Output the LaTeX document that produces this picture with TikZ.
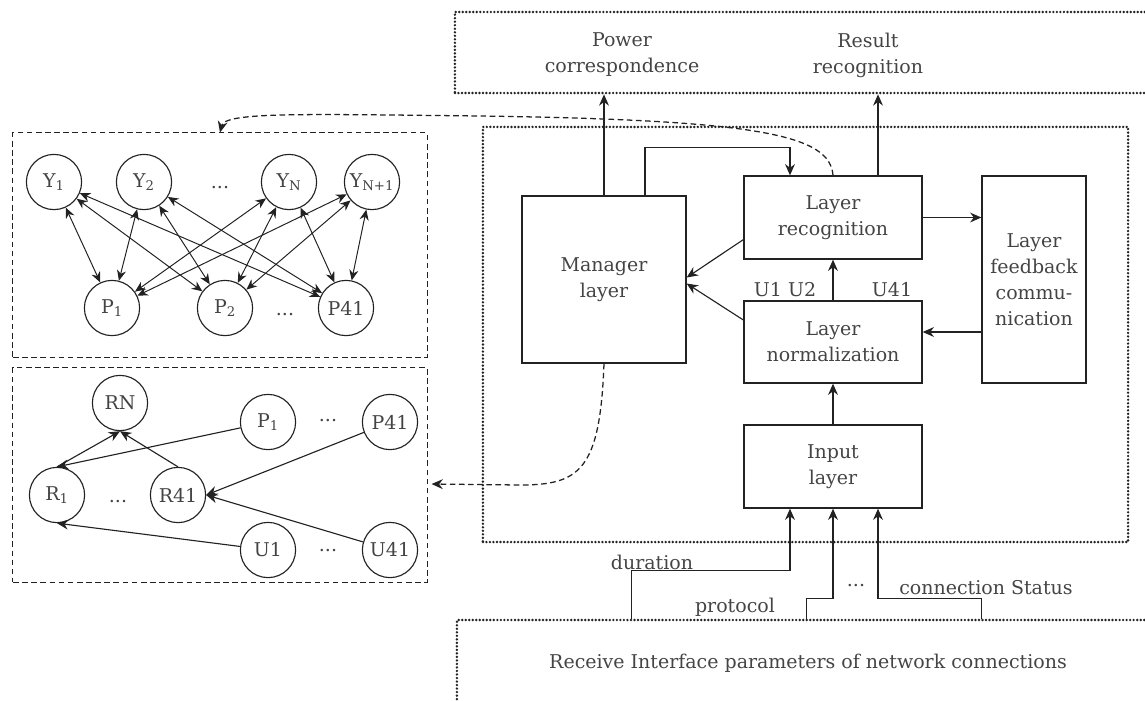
\documentclass[tikz,border=0pt]{standalone}
\usepackage{fontspec}
\setmainfont{DejaVu Serif}
\usetikzlibrary{arrows.meta}
\definecolor{ink}{HTML}{222222}
\definecolor{txt}{HTML}{444444}
\begin{document}
\begin{tikzpicture}[x=0.025cm,y=-0.025cm,
    font=\fontsize{13.5}{18.5}\selectfont,
    box/.style={rectangle,draw=ink,line width=0.9pt,align=center,text=txt,inner sep=2pt},
    neuron/.style={circle,draw=ink,line width=0.8pt,minimum size=1.38cm,inner sep=0pt,text=txt},
    link/.style={draw=ink,line width=0.8pt,-{Stealth[length=8pt,width=7pt]}},
    twoway/.style={draw=ink,line width=0.7pt,{Stealth[length=7.5pt,width=6.5pt]}-{Stealth[length=7.5pt,width=6.5pt]}},
    dotframe/.style={rectangle,draw=ink,line width=1.9pt,line cap=round,dash pattern=on 0pt off 2.5pt,inner sep=0pt},
    dashframe/.style={rectangle,draw=ink,line width=0.7pt,dash pattern=on 4pt off 2.5pt,inner sep=0pt},
    back/.style={draw=ink,line width=0.9pt,dash pattern=on 4pt off 2.5pt,-{Stealth[length=8pt,width=7pt]}},
    label/.style={text=txt,align=center}]
  \useasboundingbox (0,0) rectangle (1145,700);
  \clip (0,0) rectangle (1145,700);

  % frames
  \node[dotframe,minimum width=17.625cm,minimum height=2.025cm] (outputs) at (807.5,52.5) {};
  \node[dotframe,minimum width=16.125cm,minimum height=10.375cm] (system) at (805.5,334.5) {};
  \node[dotframe,minimum width=17.575cm,minimum height=2.5cm] (params) at (808.5,670) {};
  \node[dashframe,minimum width=10.35cm,minimum height=5.6cm] (topnet) at (220,245) {};
  \node[dashframe,minimum width=10.35cm,minimum height=5.35cm] (botnet) at (220,475) {};

  \node[label] (power) at (622,55) {Power\\correspondence};
  \node[label] (result) at (868,55) {Result\\recognition};
  \node[label] (receive) at (808,663) {Receive Interface parameters of network connections};

  % layers
  \node[box,minimum width=4.1cm,minimum height=4.175cm] (manager) at (604,279.5) {Manager\\layer};
  \node[box,minimum width=4.45cm,minimum height=2.075cm] (recog) at (833,217.5) {Layer\\recognition};
  \node[box,minimum width=4.45cm,minimum height=2.05cm] (norm) at (833,342) {Layer\\normalization};
  \node[box,minimum width=4.45cm,minimum height=2.075cm] (input) at (833,466.5) {Input\\layer};
  \node[box,minimum width=2.6cm,minimum height=5.175cm] (feedback) at (1034,279.5) {Layer\\feedback\\commu-\\nication};

  \node[label] (u12) at (785,290) {U1 U2};
  \node[label] (u41) at (892,290) {U41};

  \draw[link] (manager.north) -- (manager.north |- outputs.south);
  \draw[link] ([xshift=1.125cm]recog.north) -- ([xshift=1.125cm]recog.north |- outputs.south);
  \draw[link] ([xshift=1.025cm]manager.north) -- ++(0,-48) -| ([xshift=-1.075cm]recog.north);
  \draw[link] (recog.east) -- (recog.east -| feedback.west);
  \draw[link] ([yshift=0.25cm]norm.east -| feedback.west) -- ([yshift=0.25cm]norm.east);
  \draw[link] (norm) -- (recog);
  \draw[link] (input) -- (norm);
  \draw[link] ([yshift=0.5cm]recog.south west) -- ([yshift=0.05cm]manager.east);
  \draw[link] ([yshift=0.55cm]norm.west) -- ([yshift=-0.1cm]manager.east);

  % inputs from below
  \draw[link] ([xshift=4.4cm]params.north west) -- ++(0,-48) -| ([xshift=-1.075cm]input.south);
  \draw[link] ([xshift=8.775cm]params.north west) -- ++(0,-20) -| (input.south);
  \draw[link] ([xshift=13.15cm]params.north west) -- ++(0,-20) -| ([xshift=1.125cm]input.south);
  \node[label] (duration) at (652,562) {duration};
  \node[label] (protocol) at (735,607) {protocol};
  \node[label] (more) at (856,586) {...};
  \node[label] (status) at (986,588) {connection Status};

  % feedback to the nets
  \draw[back] (recog.north) .. controls (830,135) and (760,120) .. (480,116)
    .. controls (300,114) and (225,112) .. (topnet.north);
  \draw[back] (manager.south) .. controls (600,470) and (580,485) .. (520,485)
    -- ([xshift=0.1cm,yshift=-0.225cm]botnet.east);

  % top net
  \node[neuron] (y1) at (54,182) {Y\textsubscript{1}};
  \node[neuron] (y2) at (144,182) {Y\textsubscript{2}};
  \node[label] (ydots) at (220,188) {...};
  \node[neuron] (yn) at (289,182) {Y\textsubscript{N}};
  \node[neuron] (yn1) at (372,182) {Y\textsubscript{N+1}};
  \node[neuron] (p1) at (112,308) {P\textsubscript{1}};
  \node[neuron] (p2) at (225,308) {P\textsubscript{2}};
  \node[label] (pdots) at (285,315) {...};
  \node[neuron] (p41) at (346,308) {P41};
  \foreach \y in {y1,y2,yn,yn1}
    \foreach \p in {p1,p2,p41}
      \draw[twoway] (\y) -- (\p);

  % bottom net
  \node[neuron] (rn) at (120,403) {RN};
  \node[neuron] (pb1) at (268,422) {P\textsubscript{1}};
  \node[label] (pbdots) at (328,421) {...};
  \node[neuron] (pb41) at (390,422) {P41};
  \node[neuron] (r1) at (57,495) {R\textsubscript{1}};
  \node[label] (rdots) at (118,502) {...};
  \node[neuron] (r41) at (178,495) {R41};
  \node[neuron] (u1) at (268,550) {U1};
  \node[label] (udots) at (328,551) {...};
  \node[neuron] (u41n) at (390,550) {U41};
  \draw[link] (r1.north) -- (rn.south);
  \draw[link] (r41.north) -- (rn.south);
  \draw[link] (pb1) -- (r1.north);
  \draw[link] (pb41) -- (r41.east);
  \draw[link] (u41n) -- (r41.east);
  \draw[link] (u1) -- (r1.south);
\end{tikzpicture}
\end{document}
